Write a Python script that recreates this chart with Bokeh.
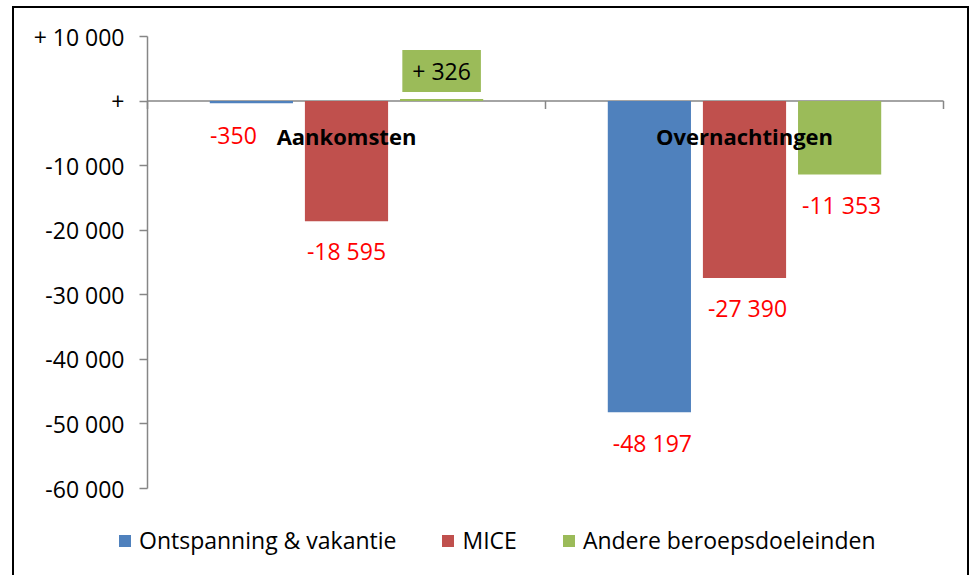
from bokeh.plotting import figure
from bokeh.models import Range1d, FixedTicker, Legend, LegendItem
from bokeh.embed import file_html
from bokeh.resources import INLINE
from bokeh.core.properties import value

# ---- data ----
categories = ["Aankomsten", "Overnachtingen"]
series_names = ["Ontspanning & vakantie", "MICE", "Andere beroepsdoeleinden"]
ontspanning = [-350, -48197]
mice = [-18595, -27390]
andere = [326, -11353]
labels_ontspanning = ["-350", "-48 197"]
labels_mice = ["-18 595", "-27 390"]
labels_andere = ["+ 326", "-11 353"]
y_ticks = [10000, 0, -10000, -20000, -30000, -40000, -50000, -60000]
y_tick_labels = ["+ 10 000", "+", "-10 000", "-20 000", "-30 000", "-40 000", "-50 000", "-60 000"]

# ---- styles / layout (pixels) ----
colors = ["#4F81BD", "#C0504D", "#9BBB59"]
dodge = [-0.239, 0.0, 0.239]
bar_w = 0.209
label_dx = [[-18, 3], [0, 3], [0, 2]]
label_dy = [[32, 31], [30, 30], [-28, 31]]
FONT = "Open Sans"
GRAY = "#868686"
W, H = 957, 569
PLOT_L, PLOT_R, PLOT_T, PLOT_B = 133, 929, 28, 480   # where the axes sit inside the canvas

y_min, y_max = min(y_ticks), max(y_ticks)
n_cat = len(categories)
px_per_x = (PLOT_R - PLOT_L) / n_cat
px_per_y = (PLOT_B - PLOT_T) / (y_max - y_min)
x_range = Range1d(-PLOT_L / px_per_x, n_cat + (W - PLOT_R) / px_per_x)
y_range = Range1d(y_min - (H - PLOT_B) / px_per_y, y_max + PLOT_T / px_per_y)

p = figure(width=W, height=H, output_backend="svg", toolbar_location=None,
           x_range=x_range, y_range=y_range,
           min_border_left=0, min_border_right=0, min_border_top=0, min_border_bottom=0,
           outline_line_color=None, background_fill_color="white", border_fill_color="white",
           styles={"border-left": "2px solid black", "border-top": "2px solid black",
                   "border-right": "2px solid black", "margin-left": "12px", "margin-top": "6px"})

p.xaxis.visible = False
p.xgrid.visible = False
p.ygrid.visible = False

ax = p.yaxis[0]
ax.fixed_location = 0
ax.bounds = (y_min, y_max)
ax.ticker = FixedTicker(ticks=y_ticks)
ax.major_label_overrides = {t: l for t, l in zip(y_ticks, y_tick_labels)}
ax.minor_tick_line_color = None
ax.major_tick_in = 0
ax.major_tick_out = 8
ax.major_tick_line_color = GRAY
ax.major_tick_line_width = 1.5
ax.axis_line_color = GRAY
ax.axis_line_width = 1.5
ax.major_label_text_font = FONT
ax.major_label_text_font_size = "23px"
ax.major_label_text_color = "black"
ax.major_label_standoff = 15

# zero line with category-boundary ticks
bounds = list(range(n_cat + 1))
tick_len = 8 / px_per_y
p.segment(x0=[0], y0=[0], x1=[n_cat], y1=[0], line_color=GRAY, line_width=1.5)
p.segment(x0=bounds, y0=[0] * len(bounds), x1=bounds, y1=[-tick_len] * len(bounds),
          line_color=GRAY, line_width=1.5)

all_vals = [ontspanning, mice, andere]
all_labels = [labels_ontspanning, labels_mice, labels_andere]
renderers = []
for i, vals in enumerate(all_vals):
    xs = [c + 0.5 + dodge[i] for c in range(n_cat)]
    r = p.vbar(x=xs, top=vals, bottom=0, width=bar_w, fill_color=colors[i], line_color=None)
    renderers.append(r)

# category labels
p.text(x=[c + 0.5 for c in range(n_cat)], y=[0] * n_cat, text=categories,
       y_offset=35, text_font=value(FONT), text_font_size="22px", text_font_style="bold",
       text_color="black", text_align="center", text_baseline="middle")

# value labels
for i, (vals, labs) in enumerate(zip(all_vals, all_labels)):
    for c in range(n_cat):
        x = c + 0.5 + dodge[i]
        if vals[c] > 0:
            p.text(x=[x], y=[vals[c]], text=[labs[c]], x_offset=label_dx[i][c], y_offset=label_dy[i][c],
                   text_font=value(FONT), text_font_size="23px", text_color="black",
                   text_align="center", text_baseline="middle",
                   background_fill_color=colors[i], padding=(10, 5))
        else:
            p.text(x=[x], y=[vals[c]], text=[labs[c]], x_offset=label_dx[i][c], y_offset=label_dy[i][c],
                   text_font=value(FONT), text_font_size="23px", text_color="#FF0000",
                   text_align="center", text_baseline="middle")

legend = Legend(items=[LegendItem(label=n, renderers=[r]) for n, r in zip(series_names, renderers)],
                orientation="horizontal", location=(103, 21), glyph_width=15, glyph_height=15,
                label_standoff=7, spacing=44, padding=0, margin=0, label_height=30,
                border_line_color=None, background_fill_alpha=0,
                label_text_font=FONT, label_text_font_size="23px", label_text_color="black")
p.add_layout(legend)

open("out.html", "w").write(file_html(p, INLINE))
